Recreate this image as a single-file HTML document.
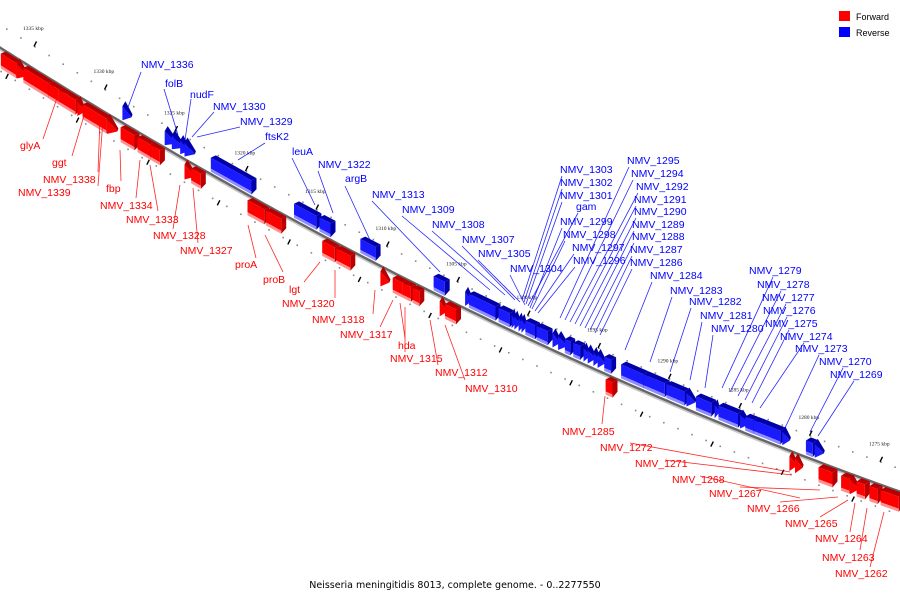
<!DOCTYPE html>
<html><head><meta charset="utf-8"><style>
html,body{margin:0;padding:0;background:#fff;}
svg{display:block;font-family:"Liberation Sans","DejaVu Sans",sans-serif;}
</style></head><body>
<svg id="chart" width="900" height="600" viewBox="0 0 900 600" xmlns="http://www.w3.org/2000/svg">
<g id="ticks"></g>
<g id="genes"></g>
<g id="leaders"></g>
<g id="labels"></g>
<g>
<rect x="839" y="11" width="11" height="10" fill="#ff0000"/>
<text x="856" y="20" font-size="9" fill="#000">Forward</text>
<rect x="839" y="27" width="11" height="10" fill="#0000ff"/>
<text x="856" y="36" font-size="9" fill="#000">Reverse</text>
</g>
<text x="455" y="588" font-size="9.5" text-anchor="middle" fill="#000" font-family="DejaVu Sans, sans-serif">Neisseria meningitidis 8013, complete genome. - 0..2277550</text>
</svg>
<script>
// Gene data (kbp coordinates), strand 'F' forward / 'R' reverse, arrow = small wedge gene
const geneStarts = [1337.5,1336.3,1335.9,1334.1,1333.4,1332.0,1331.7,1329.9,1329.0,1327.8,1326.9,1324.4,1324.0,1320.0,1318.7,1314.7,1313.7,1310.5,1309.7,1309.0,1308.3,1306.3,1306.0,1294.6,1281.5,1281.1,1279.5,1277.9,1277.2,1276.8,1275.9,1275.1,
 1328.8,1325.8,1325.3,1324.7,1324.4,1322.6,1316.7,1314.9,1312.0,1306.8,1304.5,1304.3,1302.2,1301.2,1301.0,1300.7,1300.5,1300.3,1299.5,1298.3,1297.9,1297.5,1296.9,1296.1,1295.8,1295.4,1295.1,1294.7,1293.5,1291.9,1290.3,1288.8,1288.2,1286.8,1286.6,1285.0,1284.7,1284.1,1282.0,1280.4,1279.7];
const geneEnds = [1336.2,1335.7,1333.9,1333.2,1332.0,1331.6,1329.8,1329.3,1327.8,1326.7,1326.0,1323.8,1323.1,1318.6,1317.4,1313.6,1312.5,1310.0,1308.8,1308.2,1307.6,1305.9,1305.0,1293.9,1281.1,1280.7,1278.3,1277.1,1276.7,1276.0,1275.1,1273.6,
 1328.3,1325.1,1324.6,1324.2,1323.8,1319.5,1314.9,1313.9,1310.7,1305.8,1304.15,1302.2,1301.2,1301.0,1300.75,1300.5,1300.3,1299.4,1298.5,1297.9,1297.4,1296.9,1296.2,1295.8,1295.4,1295.1,1294.7,1294.0,1291.7,1290.2,1288.8,1288.3,1286.9,1286.6,1285.0,1284.5,1283.9,1282.0,1281.6,1279.7,1279.2];
const geneStrands = "FFFFFFFFFFFFFFFFFFFFFFFFFFFFFFFF".split("").concat("RRRRRRRRRRRRRRRRRRRRRRRRRRRRRRRRRRRRRRRRRRR".split(""));
const geneArrow = [0,1,0,0,0,1,0,1,0,0,0,1,0,0,0,0,0,1,0,0,0,1,0,0,1,1,0,0,1,0,0,0,
 1,1,1,1,1,0,0,0,0,0,1,0,0,1,1,1,1,0,0,1,1,0,0,1,1,1,1,0,0,0,0,1,0,1,0,1,0,0,1,0,1];
const tickKbp = [1335,1330,1325,1320,1315,1310,1305,1300,1295,1290,1285,1280,1275];

// Labels: text, strand, label x, baseline y, leader start, leader target
const labelTexts = ["NMV_1336","folB","nudF","NMV_1330","NMV_1329","ftsK2","leuA","NMV_1322","argB","NMV_1313","NMV_1309","NMV_1308","NMV_1307","NMV_1305","NMV_1304",
"NMV_1303","NMV_1302","NMV_1301","gam","NMV_1299","NMV_1298","NMV_1297","NMV_1296",
"NMV_1295","NMV_1294","NMV_1292","NMV_1291","NMV_1290","NMV_1289","NMV_1288","NMV_1287","NMV_1286","NMV_1284","NMV_1283","NMV_1282","NMV_1281","NMV_1280",
"NMV_1279","NMV_1278","NMV_1277","NMV_1276","NMV_1275","NMV_1274","NMV_1273","NMV_1270","NMV_1269","NMV_1268",
"glyA","ggt","NMV_1338","NMV_1339","fbp","NMV_1334","NMV_1333","NMV_1328","NMV_1327","proA","proB","lgt","NMV_1320","NMV_1318","NMV_1317","hda","NMV_1315","NMV_1312","NMV_1310","NMV_1285","NMV_1272","NMV_1271","NMV_1267","NMV_1266","NMV_1265","NMV_1264","NMV_1263","NMV_1262"];
const labelStrand = "BBBBBBBBBBBBBBBBBBBBBBBBBBBBBBBBBBBBBBBBBBBBBB".split("").concat("RRRRRRRRRRRRRRRRRRRRRRRRRRRR".split(""));
const labelX = [141,165,190,213,240,265,292,318,345,372,402,432,462,478,510,560,560,560,576,560,563,572,573,627,631,636,634,634,632,632,630,630,650,670,689,700,711,749,757,762,763,765,780,795,819,830,672,
 20,52,43,18,106,100,126,153,180,235,263,289,282,312,340,398,390,435,465,562,600,635,709,747,785,815,822,835];
const labelY = [68,87,98,110,125,140,155,168,182,198,213,228,243,257,272,173,186,199,210,225,238,251,264,164,177,190,203,215,228,240,253,266,279,294,305,319,332,274,288,301,314,327,340,352,365,378,483,
 149,166,183,196,192,209,223,239,254,268,283,293,307,323,338,349,362,376,392,435,451,467,497,512,527,542,561,577];
const leadSX = [141,164,191,214,240,265,292,318,345,372,402,432,462,478,510,562,562,562,578,562,565,574,575,629,633,638,636,636,634,634,632,632,652,672,691,702,713,773,781,786,787,789,804,819,843,854,700,
 43,72,98,98,121,136,158,173,198,256,283,304,335,373,380,405,405,438,465,602,630,665,740,780,820,850,860,870];
const leadSY = [72,89,99,112,127,143,158,171,186,201,216,231,246,260,275,176,189,202,213,228,241,254,267,167,180,193,206,218,231,243,256,269,282,297,308,322,335,277,291,304,317,330,343,355,368,381,476,
 139,156,172,186,181,198,211,229,243,258,272,282,298,314,327,338,352,365,380,424,443,460,487,502,517,532,550,567];
const leadTX = [127,178,185,192,197,238,315,333,370,440,490,505,515,520,525,522,524,526,528,530,532,535,538,560,565,570,575,580,585,590,595,600,625,650,670,690,705,722,730,738,745,752,760,785,810,818,800,
 58,85,100,103,120,140,150,180,193,248,265,320,335,375,393,400,405,430,445,605,790,792,820,838,848,855,867,884];
const leadTY = [110,135,140,137,137,160,205,213,240,272,290,295,300,302,305,300,302,304,306,308,309,311,313,318,320,322,324,326,328,330,333,335,350,362,372,380,388,388,392,396,400,403,408,428,432,436,498,
 95,112,118,120,150,160,165,185,188,225,235,262,270,290,300,303,307,320,325,396,472,475,490,497,500,503,508,512];

const NS = "http://www.w3.org/2000/svg";
function bb(x){ return 48 + 0.633*x - 0.000155*x*x; }
function xOf(k){ return 35 + (1335 - k)*14.1; }
function mk(tag, attrs, parent){ const e=document.createElementNS(NS,tag); for(const a in attrs) e.setAttribute(a,attrs[a]); parent.appendChild(e); return e; }
function pts(a){ return a.map(p=>p[0].toFixed(1)+","+p[1].toFixed(1)).join(" "); }

// backbone
const bbG = document.getElementById("ticks");
let d1="", d2="";
for(let x=-5;x<=905;x+=5){ d1+=(x===-5?"M":"L")+x+","+(bb(x)+1).toFixed(1); d2+=(x===-5?"M":"L")+x+","+(bb(x)-0.5).toFixed(1); }
const shadow = mk("path",{d:d1,stroke:"#c8c8c8","stroke-width":3,fill:"none"},bbG);


const back = mk("path",{d:d2,stroke:"#666","stroke-width":2.4,fill:"none"},bbG);



// dots and ticks
for(let k=1338;k>=1272;k--){
  const xu=xOf(k), xl=xOf(k+0.4);
  const du = mk("rect",{x:xu-0.8,y:bb(xu)-24,width:1.6,height:1.6,fill:"#888"},bbG);
  
  
  const dl = mk("rect",{x:xl-0.8,y:bb(xl)+22,width:1.6,height:1.6,fill:"#888"},bbG);
  
  
  if(((k%5)+5)%5===2){
    const x=xOf(k), y=bb(x)+24;
    const t=mk("line",{x1:x-1,y1:y+2.5,x2:x+1.5,y2:y-2.5,stroke:"#000","stroke-width":1.4},bbG);
    
    
  }
}
tickKbp.forEach(k=>{
  const x=xOf(k), y=bb(x)-26;
  const t=mk("line",{x1:x-1,y1:y+2.5,x2:x+1.5,y2:y-2.5,stroke:"#000","stroke-width":1.4},bbG);
  
  
  const l=mk("text",{x:x-12,y:bb(x)-40,"font-size":5.5,fill:"#222","font-family":"Liberation Serif, serif"},bbG);
  l.textContent=k+" kbp";
  
  
});

// genes
const gG=document.getElementById("genes");
geneStarts.forEach((s,i)=>{
  let x1=xOf(s), x2=xOf(geneEnds[i]);
  if(!geneArrow[i] && x2-x1>6){ x1+=1; x2-=2; }
  const fwd=geneStrands[i]==="F";
  const o1=fwd?5:-17, o2=fwd?17:-6, o3=fwd?20:-3;
  const cTop=fwd?"#b80000":"#0000a8", cFront=fwd?"#ff0000":"#1a1aff", cBot=fwd?"#ff9090":"#8c8cff";
  const g=mk("g",{},gG);
  
  
  const sk=5, up=5;
  if(geneArrow[i]){
    mk("polygon",{points:pts([[x1,bb(x1)+o1],[x2+2,bb(x2)+(o1+o3)/2],[x1,bb(x1)+o3]]),fill:cFront},g);
    mk("polygon",{points:pts([[x1,bb(x1)+o1],[x1+3,bb(x1)+o1-up],[x2+3,bb(x2)+(o1+o3)/2-up+2],[x2+2,bb(x2)+(o1+o3)/2]]),fill:cTop},g);
  } else {
    mk("polygon",{points:pts([[x1,bb(x1)+o1],[x1+sk,bb(x1+sk)+o1-up],[x2+sk,bb(x2+sk)+o1-up],[x2,bb(x2)+o1]]),fill:cTop},g);
    mk("polygon",{points:pts([[x2,bb(x2)+o1],[x2+sk,bb(x2+sk)+o1-up],[x2+sk,bb(x2+sk)+o2-up],[x2,bb(x2)+o3]]),fill:cTop},g);
    mk("polygon",{points:pts([[x1,bb(x1)+o1],[x2,bb(x2)+o1],[x2,bb(x2)+o2],[x1,bb(x1)+o2]]),fill:cFront},g);
    mk("polygon",{points:pts([[x1,bb(x1)+o2],[x2,bb(x2)+o2],[x2,bb(x2)+o3],[x1,bb(x1)+o3]]),fill:cBot},g);
  }
});

// labels + leaders
const lG=document.getElementById("leaders"), tG=document.getElementById("labels");
labelTexts.forEach((t,i)=>{
  const col=labelStrand[i]==="B"?"#0000ff":"#ff0000";
  const ln=mk("line",{x1:leadSX[i],y1:leadSY[i],x2:leadTX[i],y2:leadTY[i],stroke:col,"stroke-width":0.8,opacity:0.85},lG);
  
  
  const tx=mk("text",{x:labelX[i],y:labelY[i],"font-size":10.5,fill:col},tG);
  tx.textContent=t;
  
  
});
</script>
</body></html>
